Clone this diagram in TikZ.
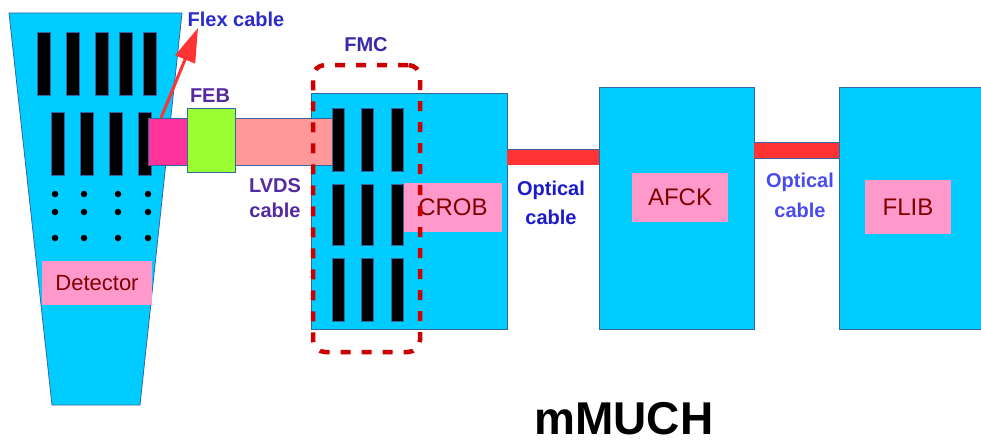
\documentclass[tikz,border=0pt]{standalone}
\usepackage{fontspec}
\setmainfont{Liberation Sans}
\usetikzlibrary{arrows.meta}
\definecolor{cyanbox}{HTML}{00CCFF}
\definecolor{edge}{HTML}{3465A4}
\definecolor{labfill}{HTML}{FF99CC}
\definecolor{labtext}{HTML}{800000}
\definecolor{cablered}{HTML}{FF3333}
\definecolor{dashred}{HTML}{CC0000}
\definecolor{magconn}{HTML}{FF3399}
\definecolor{febgreen}{HTML}{99FF33}
\definecolor{lvdsfill}{HTML}{FF9999}
\definecolor{flexcol}{HTML}{2B2BCC}
\definecolor{purpcol}{HTML}{5529A0}
\definecolor{fmccol}{HTML}{3A2AA8}
\definecolor{opt1col}{HTML}{1A1ACC}
\definecolor{opt2col}{HTML}{4A4AEE}
\tikzset{
  unit/.style={draw=edge, line width=0.8pt, fill=cyanbox, inner sep=0pt, outer sep=0pt},
  bar/.style={draw=edge, line width=0.6pt, fill=black, inner sep=0pt, outer sep=0pt, minimum width=13pt},
  dot/.style={circle, fill=black, inner sep=0pt, minimum size=6.5pt},
  lab/.style={fill=labfill, inner sep=0pt, outer sep=0pt, text=labtext, font=\fontsize{24}{26}\selectfont},
  note/.style={font=\bfseries\fontsize{20}{22}\selectfont, align=center, inner sep=0pt},
  optcable/.style={draw=edge, line width=0.8pt, double=cablered, double distance=15pt},
}
\begin{document}
\begin{tikzpicture}[x=1pt,y=-1pt]
\useasboundingbox (0,0) rectangle (981,444);

% Detector
\draw[unit] (9,13) -- (182,13) -- (140,405) -- (52,405) -- cycle;
\foreach \x [count=\i] in {43.5,72.5,101.5,125.5,150}
  \node[bar, minimum height=63pt] (dA\i) at (\x,63.5) {};
\foreach \x [count=\i] in {57.5,86.5,116,145}
  \node[bar, minimum height=63pt] (dB\i) at (\x,143.5) {};
\foreach \x [count=\i] in {55,84,118,148}{
  \node[dot] (p1\i) at (\x,194) {};
  \node[dot] (p2\i) at (\x,212) {};
  \node[dot] (p3\i) at (\x,238) {};
}
\node[lab, minimum width=110pt, minimum height=44pt, font=\fontsize{22}{24}\selectfont] (detlab) at (97,283) {Detector};

% CROB
\node[unit, minimum width=196pt, minimum height=236pt] (crob) at (409,211) {};

% connector, FEB, LVDS
\node[draw=edge, line width=0.8pt, fill=lvdsfill, inner sep=0pt, outer sep=0pt, minimum width=97pt, minimum height=47pt] (lvds) at (283.5,141.5) {};
\node[draw=edge, line width=0.8pt, fill=magconn, inner sep=0pt, outer sep=0pt, minimum width=39pt, minimum height=47pt] (conn) at (167.5,141.5) {};
\node[draw=edge, line width=0.8pt, fill=febgreen, inner sep=0pt, outer sep=0pt, minimum width=48pt, minimum height=64pt] (feb) at (211,140) {};

\foreach \x [count=\i] in {338,367,397}{
  \node[bar, minimum width=12pt, minimum height=63pt] (cA\i) at (\x,139.5) {};
  \node[bar, minimum width=12pt, minimum height=61pt] (cB\i) at (\x,214.5) {};
  \node[bar, minimum width=12pt, minimum height=63pt] (cC\i) at (\x,289.5) {};
}
\node[lab, minimum width=98pt, minimum height=49pt] (crlab) at (453,207.5) {CROB};

% FMC dashed
\node[draw=dashred, line width=4.5pt, dash pattern=on 10pt off 11pt, rounded corners=12pt, inner sep=0pt, minimum width=107pt, minimum height=287pt] (fmc) at (366.5,208.5) {};

% AFCK and FLIB
\node[unit, minimum width=155pt, minimum height=242pt] (afck) at (676.5,208) {};
\node[lab, minimum width=96pt, minimum height=49pt] (aflab) at (680,197.5) {AFCK};
\node[unit, minimum width=160pt, minimum height=242pt] (flib) at (919,208) {};
\node[lab, minimum width=86pt, minimum height=54pt] (fllab) at (908,207) {FLIB};

% optical cables
\draw[optcable] ([yshift=54pt]crob.east) coordinate (o1) -- (o1 -| afck.west);
\draw[optcable] ([yshift=57.5pt]afck.east) coordinate (o2) -- (o2 -| flib.west);

% flex cable arrow
\coordinate (flextip) at (198,28);
\draw[cablered, line width=3pt, -{Triangle[width=21pt,length=34pt]}] ([xshift=13pt]conn.north west) -- (flextip);

% texts
\node[note, text=flexcol] (flext) at (236,19) {Flex cable};
\node[note, text=purpcol] (febt) at (210,96) {FEB};
\node[note, text=purpcol] (lvdst) at (275,198.5) {LVDS\\[3pt]cable};
\node[note, text=fmccol] (fmct) at (366,45) {FMC};
\node[note, text=opt1col] (opt1t) at (551,202.5) {Optical\\[7pt]cable};
\node[note, text=opt2col] (opt2t) at (800,195) {Optical\\[8pt]cable};
\node[font=\bfseries\fontsize{46}{50}\selectfont, inner sep=0pt, anchor=base] (title) at (624,434) {mMUCH};
\end{tikzpicture}
\end{document}
